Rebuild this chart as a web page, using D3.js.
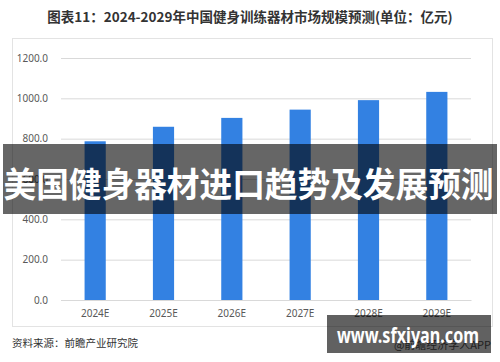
<!DOCTYPE html>
<html>
<head>
<meta charset="utf-8">
<script src="https://cdn.jsdelivr.net/npm/d3@7"></script>
<style>
  body { margin: 0; background: #fff; }
  svg { display: block; font-family: "Noto Sans CJK SC", "Noto Sans", sans-serif; }
</style>
</head>
<body>
<svg id="chart" width="500" height="362"></svg>
<script>
// values (亿元)
var years = ['2024E', '2025E', '2026E', '2027E', '2028E', '2029E'];
var marketSize = [787, 859, 903, 944, 991, 1032];
var yTicks = [0, 200, 400, 600, 800, 1000, 1200];

var chartTitle = '图表11：2024-2029年中国健身训练器材市场规模预测(单位：亿元)';
var sourceText = '资料来源：前瞻产业研究院';
var bannerText = '美国健身器材进口趋势及发展预测';

var svg = d3.select('#chart');
var margin = {left: 61, right: 29, top: 58, bottom: 62};
var w = 500, h = 362;

var x = d3.scaleBand()
  .domain(years)
  .range([margin.left, w - margin.right])
  .paddingInner(0.69)
  .paddingOuter(0.345);

var y = d3.scaleLinear()
  .domain([0, 1200])
  .range([h - margin.bottom, margin.top]);

// title
svg.append('text')
  .attr('x', 250).attr('y', 22)
  .attr('text-anchor', 'middle')
  .style('font-size', '13.5px').style('font-weight', 'bold')
  .style('fill', '#333')
  .text(chartTitle);

// outer frame of the chart
svg.append('rect')
  .attr('x', 12.5).attr('y', 38.5)
  .attr('width', 480).attr('height', 288)
  .style('fill', 'none').style('stroke', '#e3e3e3');

// grid + y labels
var yAxis = svg.append('g')
  .attr('transform', 'translate(' + margin.left + ',0)')
  .call(d3.axisLeft(y).tickValues(yTicks)
    .tickSize(-(w - margin.left - margin.right))
    .tickPadding(13)
    .tickFormat(function(d) { return d3.format('.1f')(d); }));
yAxis.select('.domain').remove();
yAxis.selectAll('line').style('stroke', '#d9d9d9');
yAxis.selectAll('text').style('font-size', '10px').style('fill', '#595959')
  .style('font-family', '"Noto Sans", sans-serif');

// bars
svg.append('g').selectAll('rect')
  .data(marketSize)
  .enter().append('rect')
  .attr('x', function(d, i) { return x(years[i]); })
  .attr('y', function(d) { return y(d); })
  .attr('width', x.bandwidth())
  .attr('height', function(d) { return y(0) - y(d); })
  .style('fill', '#3381e2');

// x labels
var xAxis = svg.append('g')
  .attr('transform', 'translate(0,' + y(0) + ')')
  .call(d3.axisBottom(x).tickSize(0).tickPadding(10));
xAxis.select('.domain').style('stroke', '#d9d9d9');
xAxis.selectAll('text').style('font-size', '10px').style('fill', '#595959')
  .style('font-family', '"Noto Sans", sans-serif');

// source
svg.append('text')
  .attr('x', 12).attr('y', 347)
  .style('font-size', '10.5px').style('fill', '#333')
  .text(sourceText);

// small app credit bottom right (sits under the stamp)
svg.append('text')
  .attr('x', 491).attr('y', 349)
  .attr('text-anchor', 'end')
  .style('font-size', '11px').style('fill', '#555')
  .text('@前瞻经济学人APP');

// overlay banner across the middle
svg.append('rect')
  .attr('x', 3).attr('y', 144)
  .attr('width', 494).attr('height', 70)
  .style('fill', 'rgba(0,0,0,0.6)');
svg.append('text')
  .attr('x', 3.5).attr('y', 197)
  .attr('textLength', 490)
  .attr('lengthAdjust', 'spacingAndGlyphs')
  .style('font-size', '34px').style('font-weight', 'bold')
  .style('fill', '#fff')
  .text(bannerText);

// site stamp bottom right
svg.append('rect')
  .attr('x', 327).attr('y', 315)
  .attr('width', 164).attr('height', 38)
  .style('fill', 'rgba(0,0,0,0.62)');
svg.append('text')
  .attr('x', 337).attr('y', 343)
  .attr('textLength', 142)
  .attr('lengthAdjust', 'spacingAndGlyphs')
  .style('font-size', '21px').style('font-weight', 'bold')
  .style('font-family', '"Noto Sans", sans-serif')
  .style('fill', '#fff')
  .text('www.sfxiyan.com');
</script>
</body>
</html>
